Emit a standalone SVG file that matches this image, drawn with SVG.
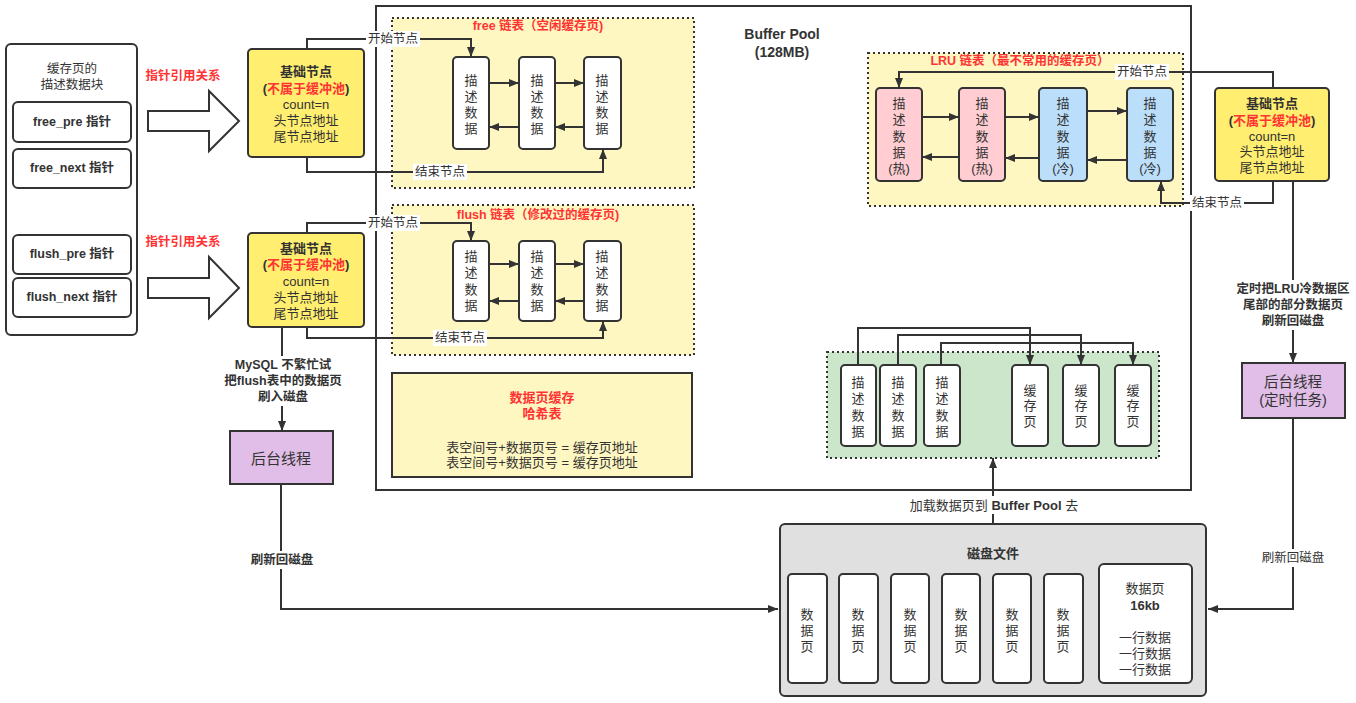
<svg xmlns="http://www.w3.org/2000/svg" width="1356" height="703" viewBox="0 0 1356 703">
<defs>
<marker id="arr" viewBox="0 0 10 10" refX="10" refY="5" markerWidth="10" markerHeight="10" orient="auto" markerUnits="userSpaceOnUse"><path d="M0,1 L10,5 L0,9 z" fill="#333"/></marker>
<style>
text{font-family:"Liberation Sans","Noto Sans CJK SC",sans-serif;font-size:12.5px;fill:#333;text-anchor:middle;dominant-baseline:central}
.b{font-weight:bold}
.r{fill:#FF3333;font-weight:bold}
.n{font-size:13px}
.box{fill:#fff;stroke:#333;stroke-width:2}
.base{fill:#FFEE70;stroke:#333;stroke-width:2}
.dot{stroke:#333;stroke-width:2;stroke-dasharray:2 3}
.pur{fill:#E1BEE7;stroke:#333;stroke-width:2}
.ca{fill:none;stroke:#333;stroke-width:2;marker-end:url(#arr)}
.bg{fill:#fff}
</style>
</defs>

<g id="buffer-pool">
<rect x="376" y="6" width="815" height="484" fill="#fff" stroke="#333" stroke-width="2"/>
<text class="b" style="font-size:14px"><tspan x="782" y="34">Buffer Pool</tspan><tspan x="782" y="52">(128MB)</tspan></text>
</g>
<g id="free-list">
<rect x="392" y="18" width="302" height="170" fill="#FFF7C2" class="dot"/>
<text x="538" y="26" class="r">free 链表（空闲缓存页)</text>
</g>
<g id="flush-list">
<rect x="392" y="205" width="302" height="150" fill="#FFF7C2" class="dot"/>
<text x="538" y="215" class="r">flush 链表（修改过的缓存页)</text>
</g>
<g id="lru-list">
<rect x="868" y="53" width="315" height="153" fill="#FFF7C2" class="dot"/>
<text x="1020" y="61" class="r">LRU 链表（最不常用的缓存页）</text>
</g>
<g id="cache-area">
<rect x="827" y="352" width="332" height="106" fill="#CCE6CB" class="dot"/>
</g>

<g id="connectors">
<polyline class="ca" points="307,49 307,39 471,39 471,57"/>
<polyline class="ca" points="307,157 307,172 603,172 603,149"/>
<polyline class="ca" points="307,233 307,223 471,223 471,241"/>
<polyline class="ca" points="307,327 307,338 603,338 603,321"/>
<line class="ca" x1="489" y1="83" x2="519" y2="83"/>
<line class="ca" x1="555" y1="83" x2="584" y2="83"/>
<line class="ca" x1="519" y1="127" x2="489" y2="127"/>
<line class="ca" x1="584" y1="127" x2="555" y2="127"/>
<line class="ca" x1="489" y1="264" x2="519" y2="264"/>
<line class="ca" x1="555" y1="264" x2="584" y2="264"/>
<line class="ca" x1="519" y1="301" x2="489" y2="301"/>
<line class="ca" x1="584" y1="301" x2="555" y2="301"/>
<line class="ca" x1="922" y1="117" x2="959" y2="117"/>
<line class="ca" x1="1005" y1="117" x2="1039" y2="117"/>
<line class="ca" x1="1087" y1="111" x2="1127" y2="111"/>
<line class="ca" x1="959" y1="157" x2="922" y2="157"/>
<line class="ca" x1="1039" y1="158" x2="1005" y2="158"/>
<line class="ca" x1="1127" y1="160" x2="1087" y2="160"/>
<polyline class="ca" points="1273,88 1273,72 899,72 899,88"/>
<polyline class="ca" points="1273,181 1273,203 1161,203 1161,181"/>
<polyline class="ca" points="858,365 858,328 1030,328 1030,365"/>
<polyline class="ca" points="898,365 898,335 1081,335 1081,365"/>
<polyline class="ca" points="941,365 941,343 1133,343 1133,365"/>
<line class="ca" x1="993" y1="524" x2="993" y2="458"/>
<line class="ca" x1="282" y1="327" x2="282" y2="431"/>
<polyline class="ca" points="281,484 281,609 778,609"/>
<line class="ca" x1="1293" y1="181" x2="1293" y2="363"/>
<polyline class="ca" points="1293,418 1293,609 1208,609"/>
<rect class="bg" x="366" y="31" width="54" height="16"/>
<text x="393" y="39">开始节点</text>
<rect class="bg" x="413" y="164" width="54" height="16"/>
<text x="440" y="172">结束节点</text>
<rect class="bg" x="366" y="215" width="54" height="16"/>
<text x="393" y="223">开始节点</text>
<rect class="bg" x="433" y="330" width="54" height="16"/>
<text x="460" y="338">结束节点</text>
<rect class="bg" x="1115" y="64" width="54" height="16"/>
<text x="1142" y="72">开始节点</text>
<rect class="bg" x="1190" y="195" width="54" height="16"/>
<text x="1217" y="203">结束节点</text>
<rect class="bg" x="219" y="356" width="128" height="50"/>
<text class="b"><tspan x="283" y="365">MySQL 不繁忙试</tspan><tspan x="283" y="381">把flush表中的数据页</tspan><tspan x="283" y="397">刷入磁盘</tspan></text>
<rect class="bg" x="248" y="551" width="68" height="18"/>
<text x="282" y="560" class="b">刷新回磁盘</text>
<rect class="bg" x="1234" y="280" width="118" height="50"/>
<text class="b"><tspan x="1293" y="289">定时把LRU冷数据区</tspan><tspan x="1293" y="305">尾部的部分数据页</tspan><tspan x="1293" y="321">刷新回磁盘</tspan></text>
<rect class="bg" x="1259" y="549" width="68" height="18"/>
<text x="1293" y="558">刷新回磁盘</text>
<rect class="bg" x="903" y="496" width="182" height="18"/>
<text x="994" y="505" class="n">加载数据页到 <tspan class="b">Buffer Pool</tspan> 去</text>
</g>

<g id="desc-block">
<rect x="6" y="44" width="131" height="291" rx="5" class="box"/>
<text><tspan x="72" y="69">缓存页的</tspan><tspan x="72" y="85">描述数据块</tspan></text>
</g>
<g id="free-pre"><rect x="13" y="102" width="118" height="40" rx="5" class="box"/><text x="72" y="122" class="b">free_pre 指针</text></g>
<g id="free-next"><rect x="13" y="149" width="118" height="39" rx="5" class="box"/><text x="72" y="168" class="b">free_next 指针</text></g>
<g id="flush-pre"><rect x="13" y="235" width="118" height="39" rx="5" class="box"/><text x="72" y="254" class="b">flush_pre 指针</text></g>
<g id="flush-next"><rect x="13" y="278" width="118" height="39" rx="5" class="box"/><text x="72" y="297" class="b">flush_next 指针</text></g>

<g id="ref-arrow-1">
<text x="183" y="76" class="r">指针引用关系</text>
<polygon points="148,111 209,111 209,91 239,121 209,151 209,131 148,131" fill="#fff" stroke="#333" stroke-width="2"/>
</g>
<g id="ref-arrow-2">
<text x="183" y="242" class="r">指针引用关系</text>
<polygon points="148,278 209,278 209,257 239,288 209,318 209,298 148,298" fill="#fff" stroke="#333" stroke-width="2"/>
</g>

<g id="base-free">
<rect x="248" y="49" width="116" height="108" rx="4" class="base"/>
<text class="n"><tspan x="306" y="71" class="b">基础节点</tspan><tspan x="306" y="88" class="b">(<tspan class="r">不属于缓冲池</tspan>)</tspan><tspan x="306" y="104">count=n</tspan><tspan x="306" y="120">头节点地址</tspan><tspan x="306" y="136">尾节点地址</tspan></text>
</g>
<g id="base-flush">
<rect x="248" y="233" width="116" height="94" rx="4" class="base"/>
<text class="n"><tspan x="306" y="248" class="b">基础节点</tspan><tspan x="306" y="264" class="b">(<tspan class="r">不属于缓冲池</tspan>)</tspan><tspan x="306" y="281">count=n</tspan><tspan x="306" y="297">头节点地址</tspan><tspan x="306" y="313">尾节点地址</tspan></text>
</g>
<g id="base-lru">
<rect x="1215" y="88" width="114" height="93" rx="4" class="base"/>
<text class="n"><tspan x="1272" y="103" class="b">基础节点</tspan><tspan x="1272" y="120" class="b">(<tspan class="r">不属于缓冲池</tspan>)</tspan><tspan x="1272" y="136">count=n</tspan><tspan x="1272" y="151">头节点地址</tspan><tspan x="1272" y="167">尾节点地址</tspan></text>
</g>

<g id="free-n1"><rect x="453" y="57" width="36" height="92" rx="4" class="box"/><text class="n"><tspan x="471" y="80">描</tspan><tspan x="471" y="96">述</tspan><tspan x="471" y="112">数</tspan><tspan x="471" y="128">据</tspan></text></g>
<g id="free-n2"><rect x="519" y="57" width="36" height="92" rx="4" class="box"/><text class="n"><tspan x="537" y="80">描</tspan><tspan x="537" y="96">述</tspan><tspan x="537" y="112">数</tspan><tspan x="537" y="128">据</tspan></text></g>
<g id="free-n3"><rect x="584" y="57" width="37" height="92" rx="4" class="box"/><text class="n"><tspan x="602" y="80">描</tspan><tspan x="602" y="96">述</tspan><tspan x="602" y="112">数</tspan><tspan x="602" y="128">据</tspan></text></g>

<g id="flush-n1"><rect x="453" y="241" width="36" height="80" rx="4" class="box"/><text class="n"><tspan x="471" y="256">描</tspan><tspan x="471" y="272">述</tspan><tspan x="471" y="289">数</tspan><tspan x="471" y="305">据</tspan></text></g>
<g id="flush-n2"><rect x="519" y="241" width="36" height="80" rx="4" class="box"/><text class="n"><tspan x="537" y="256">描</tspan><tspan x="537" y="272">述</tspan><tspan x="537" y="289">数</tspan><tspan x="537" y="305">据</tspan></text></g>
<g id="flush-n3"><rect x="584" y="241" width="37" height="80" rx="4" class="box"/><text class="n"><tspan x="602" y="256">描</tspan><tspan x="602" y="272">述</tspan><tspan x="602" y="289">数</tspan><tspan x="602" y="305">据</tspan></text></g>

<g id="lru-n1"><rect x="876" y="88" width="46" height="93" rx="4" fill="#FFCDD2" stroke="#333" stroke-width="2"/><text class="n"><tspan x="899" y="103">描</tspan><tspan x="899" y="119">述</tspan><tspan x="899" y="136">数</tspan><tspan x="899" y="152">据</tspan><tspan x="899" y="168">(热)</tspan></text></g>
<g id="lru-n2"><rect x="959" y="88" width="46" height="93" rx="4" fill="#FFCDD2" stroke="#333" stroke-width="2"/><text class="n"><tspan x="982" y="103">描</tspan><tspan x="982" y="119">述</tspan><tspan x="982" y="136">数</tspan><tspan x="982" y="152">据</tspan><tspan x="982" y="168">(热)</tspan></text></g>
<g id="lru-n3"><rect x="1039" y="88" width="48" height="93" rx="4" fill="#BBDEFB" stroke="#333" stroke-width="2"/><text class="n"><tspan x="1063" y="103">描</tspan><tspan x="1063" y="119">述</tspan><tspan x="1063" y="136">数</tspan><tspan x="1063" y="152">据</tspan><tspan x="1063" y="168">(冷)</tspan></text></g>
<g id="lru-n4"><rect x="1127" y="88" width="46" height="93" rx="4" fill="#BBDEFB" stroke="#333" stroke-width="2"/><text class="n"><tspan x="1150" y="103">描</tspan><tspan x="1150" y="119">述</tspan><tspan x="1150" y="136">数</tspan><tspan x="1150" y="152">据</tspan><tspan x="1150" y="168">(冷)</tspan></text></g>

<g id="hash-table">
<rect x="392" y="373" width="300" height="104" fill="#FFF7C2" stroke="#333" stroke-width="2"/>
<text class="r" style="font-size:13px"><tspan x="542" y="397">数据页缓存</tspan><tspan x="542" y="413">哈希表</tspan></text>
<text style="font-size:13px"><tspan x="542" y="447">表空间号+数据页号 = 缓存页地址</tspan><tspan x="542" y="462">表空间号+数据页号 = 缓存页地址</tspan></text>
</g>

<g id="cd-1"><rect x="841" y="365" width="35" height="81" rx="4" class="box"/><text class="n"><tspan x="858" y="382">描</tspan><tspan x="858" y="398">述</tspan><tspan x="858" y="415">数</tspan><tspan x="858" y="431">据</tspan></text></g>
<g id="cd-2"><rect x="880" y="365" width="36" height="81" rx="4" class="box"/><text class="n"><tspan x="898" y="382">描</tspan><tspan x="898" y="398">述</tspan><tspan x="898" y="415">数</tspan><tspan x="898" y="431">据</tspan></text></g>
<g id="cd-3"><rect x="924" y="365" width="36" height="81" rx="4" class="box"/><text class="n"><tspan x="942" y="382">描</tspan><tspan x="942" y="398">述</tspan><tspan x="942" y="415">数</tspan><tspan x="942" y="431">据</tspan></text></g>
<g id="cp-1"><rect x="1012" y="365" width="36" height="81" rx="4" class="box"/><text class="n"><tspan x="1030" y="390">缓</tspan><tspan x="1030" y="405">存</tspan><tspan x="1030" y="421">页</tspan></text></g>
<g id="cp-2"><rect x="1063" y="365" width="36" height="81" rx="4" class="box"/><text class="n"><tspan x="1081" y="390">缓</tspan><tspan x="1081" y="405">存</tspan><tspan x="1081" y="421">页</tspan></text></g>
<g id="cp-3"><rect x="1115" y="365" width="36" height="81" rx="4" class="box"/><text class="n"><tspan x="1133" y="390">缓</tspan><tspan x="1133" y="405">存</tspan><tspan x="1133" y="421">页</tspan></text></g>

<g id="thread-left"><rect x="230" y="431" width="103" height="53" class="pur"/><text x="281" y="458" style="font-size:15px">后台线程</text></g>
<g id="thread-right"><rect x="1242" y="363" width="103" height="55" class="pur"/><text style="font-size:14.5px"><tspan x="1293" y="382">后台线程</tspan><tspan x="1293" y="400">(定时任务)</tspan></text></g>

<g id="disk">
<rect x="780" y="524" width="426" height="172" rx="5" fill="#E0E0E0" stroke="#333" stroke-width="2"/>
<text x="993" y="553" class="b n">磁盘文件</text>
</g>
<g id="dp-1"><rect x="788" y="574" width="39" height="109" rx="4" class="box"/><text class="n"><tspan x="807" y="614">数</tspan><tspan x="807" y="630">据</tspan><tspan x="807" y="646">页</tspan></text></g>
<g id="dp-2"><rect x="839" y="574" width="39" height="109" rx="4" class="box"/><text class="n"><tspan x="858" y="614">数</tspan><tspan x="858" y="630">据</tspan><tspan x="858" y="646">页</tspan></text></g>
<g id="dp-3"><rect x="891" y="574" width="38" height="109" rx="4" class="box"/><text class="n"><tspan x="910" y="614">数</tspan><tspan x="910" y="630">据</tspan><tspan x="910" y="646">页</tspan></text></g>
<g id="dp-4"><rect x="942" y="574" width="38" height="109" rx="4" class="box"/><text class="n"><tspan x="961" y="614">数</tspan><tspan x="961" y="630">据</tspan><tspan x="961" y="646">页</tspan></text></g>
<g id="dp-5"><rect x="993" y="574" width="38" height="109" rx="4" class="box"/><text class="n"><tspan x="1012" y="614">数</tspan><tspan x="1012" y="630">据</tspan><tspan x="1012" y="646">页</tspan></text></g>
<g id="dp-6"><rect x="1044" y="574" width="39" height="109" rx="4" class="box"/><text class="n"><tspan x="1063" y="614">数</tspan><tspan x="1063" y="630">据</tspan><tspan x="1063" y="646">页</tspan></text></g>
<g id="dp-big"><rect x="1099" y="564" width="93" height="119" rx="5" class="box"/>
<text class="n"><tspan x="1145" y="588">数据页</tspan><tspan x="1145" y="605" class="b">16kb</tspan><tspan x="1145" y="637">一行数据</tspan><tspan x="1145" y="653">一行数据</tspan><tspan x="1145" y="669">一行数据</tspan></text></g>
</svg>
